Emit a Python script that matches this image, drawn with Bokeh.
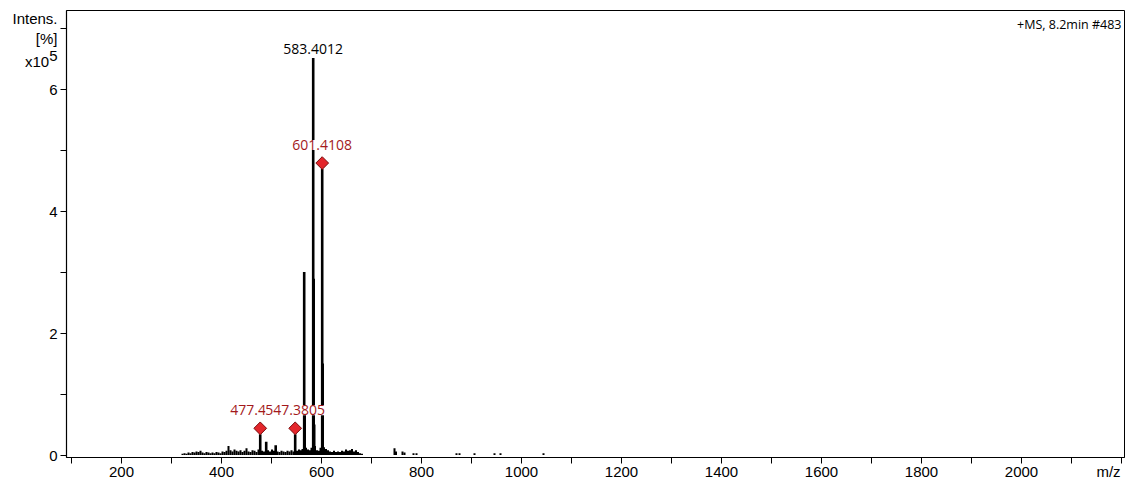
from bokeh.plotting import figure
from bokeh.models import FixedTicker, Label, ColumnDataSource, Range1d
from bokeh.core.properties import value
from bokeh.embed import file_html
from bokeh.resources import INLINE

# Intensities are in units of 1e5 counts
main_mz = [477.45, 489.4, 508.4, 547.3805, 565.39, 566.39, 583.4012, 584.40, 585.40, 601.4108, 602.41]
main_int = [0.34, 0.22, 0.16, 0.34, 3.00, 0.80, 6.51, 2.89, 0.50, 4.69, 1.50]

noise_mz = [322, 326, 330, 334, 338, 342, 346, 350, 354, 358, 362, 366, 370, 374, 378,
            382, 386, 390, 394, 398, 402, 406, 410, 414, 418, 422, 426, 430, 434, 438,
            442, 446, 450, 454, 458, 462, 466, 470, 474, 481, 485, 493, 497, 501, 505,
            512, 516, 520, 524, 528, 532, 536, 540, 544, 551, 555, 559, 562, 569, 573,
            577, 580, 587, 591, 595, 598, 605, 609, 613, 617, 621, 625, 629, 633, 637,
            641, 645, 649, 653, 657, 661, 665, 669, 673, 677, 681,
            746, 749, 762, 766, 784, 790, 870, 876, 906, 946, 958, 1044]
noise_int = [0.02, 0.03, 0.02, 0.04, 0.03, 0.05, 0.04, 0.06, 0.05, 0.07, 0.04, 0.03, 0.05, 0.04, 0.03,
             0.04, 0.03, 0.05, 0.04, 0.03, 0.06, 0.05, 0.07, 0.15, 0.08, 0.06, 0.09, 0.07, 0.06, 0.08,
             0.05, 0.07, 0.11, 0.06, 0.05, 0.08, 0.07, 0.05, 0.09, 0.07, 0.06, 0.08, 0.06, 0.09, 0.07,
             0.06, 0.05, 0.07, 0.06, 0.05, 0.07, 0.06, 0.08, 0.06, 0.07, 0.09, 0.08, 0.10, 0.12, 0.09,
             0.08, 0.12, 0.15, 0.08, 0.07, 0.12, 0.13, 0.10, 0.08, 0.06, 0.05, 0.07, 0.05, 0.06, 0.05,
             0.07, 0.06, 0.09, 0.07, 0.08, 0.10, 0.06, 0.08, 0.05, 0.03, 0.02,
             0.11, 0.06, 0.06, 0.04, 0.03, 0.03, 0.03, 0.03, 0.03, 0.03, 0.03, 0.03]

# Annotated peaks: diamonds mark the compound peaks, black label marks the base peak
marked_mz = [477.45, 547.3805, 601.4108]
marked_int = [0.34, 0.34, 4.69]
marked_text = ["477.4", "547.3805", "601.4108"]
base_mz = [583.4012]
base_int = [6.51]
base_text = ["583.4012"]

x_labels = [200, 400, 600, 800, 1000, 1200, 1400, 1600, 1800, 2000]
x_tick_marks = [100, 200, 300, 400, 500, 600, 700, 800, 900, 1000, 1100,
                1200, 1300, 1400, 1500, 1600, 1700, 1800, 1900, 2000, 2100, 2200]
y_labels = [0, 2, 4, 6]
y_tick_marks = [0, 1, 2, 3, 4, 5, 6, 7]
# "x10" with its exponent set as a separate raised "5"
y_caption = ["Intens.", "[%]", "x10\u2007", "5"]
x_caption = "m/z"

W, H = 1132, 482
left, right, top, bottom = 66, 8, 10, 25
x0, x1 = 90, 2206
y0, y1 = -0.04, 7.29
frame_w = W - left - right
frame_h = H - top - bottom
frame_bottom = H - bottom
px = (y1 - y0) / frame_h  # data units per pixel on the intensity axis
pxx = (x1 - x0) / frame_w  # data units per pixel on the m/z axis

# captions ride on the axes' label slots at fixed pixel rows/columns
cap_rows = [18, 38, 61, 55]
cap_y = [y0 + (frame_bottom - r) * px for r in cap_rows]
cap_x = x0 + (1108 - left) * pxx

p = figure(width=W, height=H, output_backend="svg", toolbar_location=None,
           x_range=Range1d(x0, x1), y_range=Range1d(y0, y1),
           min_border_left=left, min_border_right=right,
           min_border_top=top, min_border_bottom=bottom)
p.background_fill_color = "white"
p.border_fill_color = "white"
p.outline_line_color = "black"
p.outline_line_width = 1
p.grid.visible = False

FONT = "Liberation Sans"
LBL = "Open Sans"
RED = "#a3191c"

p.xaxis.ticker = FixedTicker(ticks=x_labels + [cap_x], minor_ticks=x_tick_marks)
p.xaxis.major_label_overrides = {cap_x: x_caption}
p.yaxis.ticker = FixedTicker(ticks=y_labels + cap_y, minor_ticks=y_tick_marks)
p.yaxis.major_label_overrides = {v: t for v, t in zip(cap_y, y_caption)}
for ax in (p.xaxis, p.yaxis):
    ax.axis_line_color = "black"
    ax.axis_line_width = 1.2
    ax.major_tick_line_color = None
    ax.minor_tick_line_color = "black"
    ax.major_tick_in = 0
    ax.minor_tick_in = 0
    ax.major_label_text_font = FONT
    ax.major_label_text_font_size = "15px"
    ax.major_label_text_color = "black"
p.xaxis.major_tick_out = 6
p.xaxis.minor_tick_out = 6
p.xaxis.major_label_standoff = -1
p.yaxis.major_tick_out = 6
p.yaxis.minor_tick_out = 6
p.yaxis.major_label_standoff = 3

# spectrum sticks
noise = ColumnDataSource(dict(x=noise_mz, top=noise_int))
p.segment(x0="x", y0=0, x1="x", y1="top", source=noise, line_color="black", line_width=2)
peaks = ColumnDataSource(dict(x=main_mz, top=main_int))
p.segment(x0="x", y0=0, x1="x", y1="top", source=peaks, line_color="black", line_width=2.6)

# diamond markers sit on top of the marked peaks
dy = [v + 6 * px for v in marked_int]
p.scatter(marked_mz, dy, marker="square", angle=0.785398, size=9,
          fill_color="#e3262b", line_color="#7a0c0c", line_width=1)

# peak labels (white box so they sit over neighbouring sticks)
lab = dict(text_baseline="bottom", text_font=value(LBL), text_font_size="14px",
           background_fill_color="white")
p.text([marked_mz[0]], [marked_int[0]], text=[marked_text[0]], text_align="left",
       x_offset=-30, y_offset=-19, text_color=RED, **lab)
p.text([marked_mz[1], marked_mz[2]], [marked_int[1], marked_int[2]],
       text=[marked_text[1], marked_text[2]], text_align="center",
       y_offset=-19, text_color=RED, **lab)
p.text(base_mz, base_int, text=base_text, text_align="center",
       y_offset=-4, text_color="black", **lab)

# scan info in the top right corner of the plot area
p.add_layout(Label(x=1121, y=24, x_units="canvas", y_units="canvas",
                   text="+MS, 8.2min #483", text_font=LBL, text_font_size="12.5px",
                   text_align="right", text_baseline="middle", text_color="black"))

open("out.html", "w").write(file_html(p, INLINE))
